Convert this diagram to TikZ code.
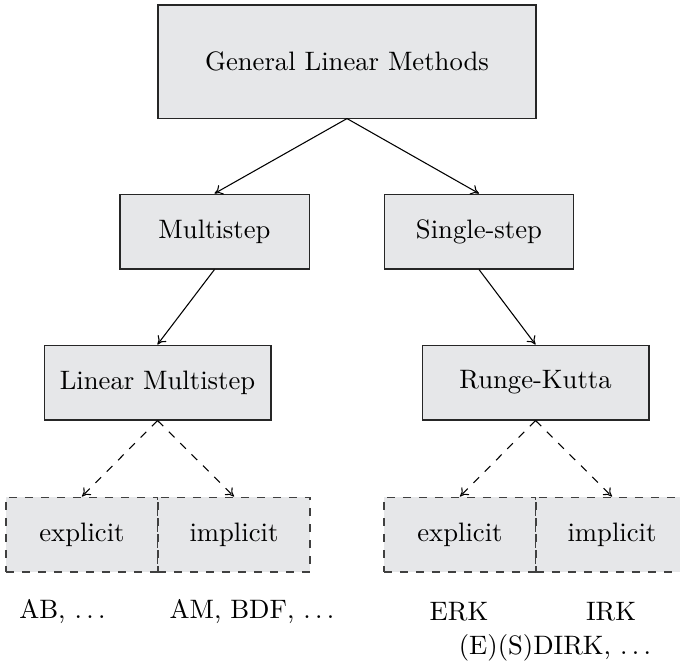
\documentclass[tikz,border=0pt]{standalone}
\usetikzlibrary{arrows.meta}
\definecolor{boxfill}{RGB}{230,231,233}
\begin{document}
\begin{tikzpicture}[x=0.375pt,y=-0.375pt,
  box/.style={draw=black!85, fill=boxfill, line width=0.4pt, inner sep=0pt,
    minimum height=28.1pt, font=\fontsize{10}{12}\selectfont},
  leaf/.style={box, dashed, draw=black!75, minimum width=57pt},
  lbl/.style={inner sep=0pt, font=\fontsize{10}{12}\selectfont},
  solidarrow/.style={-{To[length=3pt,width=4pt]}, line width=0.4pt},
  dasharrow/.style={solidarrow, dashed}]
\clip (0,0) rectangle (680,666);
\useasboundingbox (0,0) rectangle (680,666);

% tree of method families
\node[box, minimum width=141.75pt, minimum height=42.4pt] (glm) at (347,61.5) {General Linear Methods};
\node[box, minimum width=70.9pt] (ms) at (214.5,231.5) {Multistep};
\node[box, minimum width=71.2pt] (ss) at (479,231.5) {Single-step};
\node[box, minimum width=85.1pt] (lm) at (157.5,382.5) {Linear Multistep};
\node[box, minimum width=85.1pt] (rk) at (535.5,382.5) {Runge-Kutta};

% explicit / implicit variants
\node[leaf] (lme) at (82,534.5) {explicit};
\node[leaf] (lmi) at (234,534.5) {implicit};
\node[leaf] (rke) at (460,534.5) {explicit};
\node[leaf] (rki) at (612,534.5) {implicit};

% example methods
\node[lbl] (ab) at (62.5,612) {AB, $\ldots$};
\node[lbl] (am) at (252,612) {AM, BDF, $\ldots$};
\node[lbl] (erk) at (459,612) {ERK};
\node[lbl] (irk) at (611,612) {IRK};
\node[lbl] (dirk) at (555,648) {(E)(S)DIRK, $\ldots$};

% connectors
\draw[solidarrow] (glm.south) -- (ms.north);
\draw[solidarrow] (glm.south) -- (ss.north);
\draw[solidarrow] (ms.south) -- (lm.north);
\draw[solidarrow] (ss.south) -- (rk.north);
\draw[dasharrow] (lm.south) -- (lme.north);
\draw[dasharrow] (lm.south) -- (lmi.north);
\draw[dasharrow] (rk.south) -- (rke.north);
\draw[dasharrow] (rk.south) -- (rki.north);
\end{tikzpicture}
\end{document}
